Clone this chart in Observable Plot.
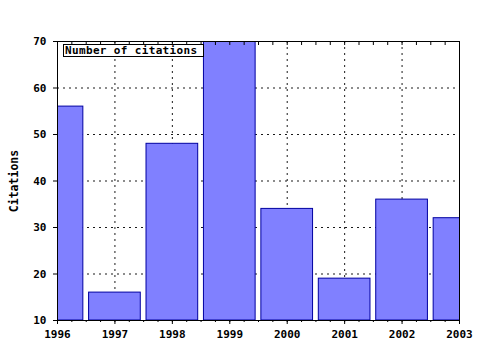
<!DOCTYPE html>
<html>
<head>
<meta charset="utf-8">
<script src="https://cdn.jsdelivr.net/npm/d3@7"></script>
<script src="https://cdn.jsdelivr.net/npm/@observablehq/plot@0.6"></script>
<style>
  html, body { margin: 0; padding: 0; background: #fff; }
  #wrap { position: relative; width: 480px; height: 350px; }
  #legend {
    position: absolute; left: 63px; top: 44px; width: 138px; height: 11px;
    border: 1px solid #000; background: #fff;
    font: bold 11px "DejaVu Sans Mono", monospace; line-height: 11px;
    letter-spacing: 0.35px;
    padding-left: 1px; box-sizing: content-box; color: #000;
  }
</style>
</head>
<body>
<div id="wrap"><div id="legend">Number of citations</div></div>
<script>
const years = [1996, 1997, 1998, 1999, 2000, 2001, 2002, 2003];
const citations = [56, 16, 48, 70, 34, 19, 36, 32];
const yTicks = [10, 20, 30, 40, 50, 60, 70];
const seriesName = "Number of citations";
const yLabel = "Citations";

const data = years.map((y, i) => ({year: y, value: citations[i]}));
const quarters = d3.range(1996, 2003.001, 0.25);

const chart = Plot.plot({
  width: 480,
  height: 350,
  marginLeft: 57,
  marginRight: 21,
  marginTop: 41,
  marginBottom: 30,
  style: {fontFamily: "DejaVu Sans Mono, monospace", fontSize: "11px", fontWeight: "bold", color: "#000", background: "#fff"},
  x: {domain: [1996, 2003]},
  y: {domain: [10, 70]},
  marks: [
    Plot.ruleX(years.slice(1, -1), {stroke: "#000", strokeDasharray: "2,4", strokeOpacity: 0.9}),
    Plot.ruleY(yTicks.slice(1, -1), {stroke: "#000", strokeDasharray: "2,4", strokeOpacity: 0.9}),
    Plot.rectY(data, {x1: d => d.year - 0.45, x2: d => d.year + 0.45, y1: 10, y2: "value", fill: "#8080ff", stroke: "#0000a0", strokeWidth: 1, clip: true}),
    Plot.frame({stroke: "#000"}),
    Plot.axisY({ticks: yTicks, tickSize: 4, tickPadding: 7, tickFormat: d => String(d), label: null, fontWeight: "bold"}),
    Plot.text([yLabel], {frameAnchor: "left", dx: -43, rotate: -90, textAnchor: "middle", text: d => d, fontWeight: "bold", fontSize: 11.5}),
    Plot.axisX({ticks: years, tickSize: 4, tickPadding: 6, tickFormat: d => String(d), label: null, fontWeight: "bold"}),
    Plot.axisX({ticks: quarters, tickSize: 2, tickFormat: null, text: null, label: null}),
    Plot.axisX({anchor: "top", ticks: quarters, tickSize: -3, text: null, label: null})
  ]
});
document.getElementById("wrap").prepend(chart);
</script>
</body>
</html>
